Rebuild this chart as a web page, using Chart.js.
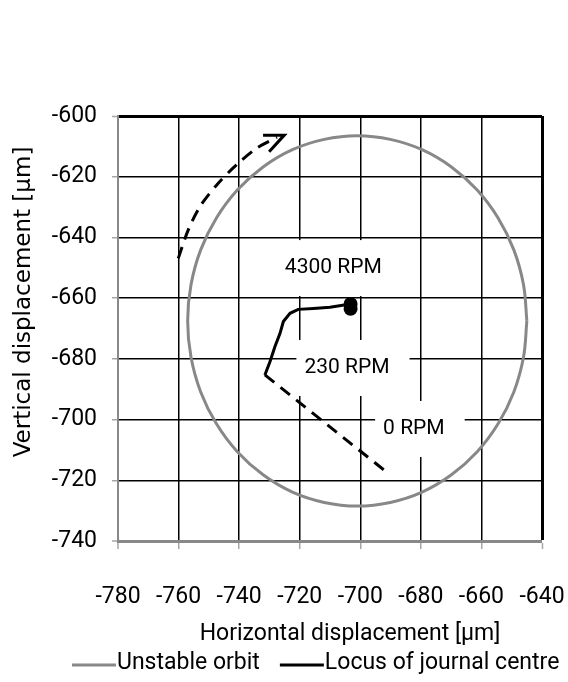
<!DOCTYPE html>
<html>
<head>
<meta charset="utf-8">
<script src="https://cdn.jsdelivr.net/npm/chart.js@4.4.0/dist/chart.umd.min.js"></script>
<style>
  body { margin: 0; background: #fff; }
</style>
</head>
<body>
<canvas id="chart" width="568" height="682"></canvas>
<script>
// values, all in µm
const orbitX = [-645, -646.1, -649.3, -654.5, -661.4, -669.9, -679.6, -690.1, -701, -711.9, -722.4, -732.1, -740.6, -747.5, -752.7, -755.9, -757,
    -755.9, -752.7, -747.5, -740.6, -732.1, -722.4, -711.9, -701, -690.1, -679.6, -669.9, -661.4, -654.5, -649.3, -646.1, -645];
const orbitY = [-667.5, -655.6, -644.1, -633.6, -624.4, -616.8, -611.1, -607.7, -606.5, -607.7, -611.1, -616.8, -624.4, -633.6, -644.1, -655.6, -667.5,
    -679.4, -690.9, -701.4, -710.6, -718.2, -723.9, -727.3, -728.5, -727.3, -723.9, -718.2, -710.6, -701.4, -690.9, -679.4, -667.5];

const locusX = [-731.5, -729.8, -728.2, -726.5, -725.4, -723.2, -720.5, -715.5, -710.0, -703.2, -703.2];
const locusY = [-685.3, -680.9, -676.0, -671.6, -667.7, -665.0, -663.7, -663.4, -663.0, -661.9, -663.5];

// dashed run-up from 0 RPM to 230 RPM
const startX = [-731.5, -690.8];
const startY = [-685.3, -717.7];

// rotation arrow
const arcX = [-760.1, -756.8, -752.9, -747.4, -740.9, -734.2, -727.5];
const arcY = [-646.9, -637.5, -629.8, -622.7, -616.1, -610.6, -607.0];
const headX = [-732.1, -725.1, -730.1];
const headY = [-606.3, -606.3, -611.8];

const speedLabels = ['4300 RPM', '230 RPM', '0 RPM'];
const speedX = [-708.9, -704.4, -682.3];
const speedY = [-650.1, -683.0, -703.1];

const FONT = "Roboto, 'DejaVu Sans Condensed', sans-serif";
const GRAY = '#888888';

function pts(xs, ys) {
    return xs.map(function (x, i) { return {x: x, y: ys[i]}; });
}

const annotate = {
    id: 'annotate',
    beforeDatasetsDraw(chart) {
        const ctx = chart.ctx, x = chart.scales.x, y = chart.scales.y;
        ctx.save();
        ctx.font = '21px ' + FONT;
        ctx.textAlign = 'center';
        ctx.textBaseline = 'middle';
        speedLabels.forEach(function (t, i) {
            const px = x.getPixelForValue(speedX[i]);
            const py = y.getPixelForValue(speedY[i]);
            const w = ctx.measureText(t).width;
            ctx.fillStyle = '#fff';
            ctx.fillRect(px - w / 2 - 8, py - 28, w + 28, 56);
            ctx.fillStyle = '#000';
            ctx.fillText(t, px, py);
        });
        ctx.restore();
    },
    afterDraw(chart) {
        const ctx = chart.ctx;
        ctx.save();
        ctx.fillStyle = '#000';
        ctx.textBaseline = 'middle';

        // axis titles
        ctx.font = '23px ' + FONT;
        ctx.textAlign = 'center';
        ctx.fillText('Horizontal displacement [µm]', 350, 634);
        ctx.save();
        ctx.translate(24, 302);
        ctx.rotate(-Math.PI / 2);
        ctx.font = "23px 'DejaVu Sans', sans-serif";
        ctx.fillText('Vertical displacement [µm]', 0, 0);
        ctx.restore();

        // legend
        ctx.font = '23px ' + FONT;
        ctx.textAlign = 'left';
        let lx = 72;
        chart.data.datasets.slice(0, 2).forEach(function (ds) {
            ctx.strokeStyle = ds.borderColor;
            ctx.lineWidth = 3;
            ctx.beginPath();
            ctx.moveTo(lx, 665);
            ctx.lineTo(lx + 44, 665);
            ctx.stroke();
            ctx.fillText(ds.label, lx + 45, 663);
            lx += 45 + ctx.measureText(ds.label).width + 20;
        });
        ctx.restore();
    }
};

new Chart(document.getElementById('chart'), {
    type: 'scatter',
    data: {
        datasets: [{
            label: 'Unstable orbit',
            data: pts(orbitX, orbitY),
            showLine: true,
            borderColor: GRAY,
            borderWidth: 3,
            tension: 0.35,
            pointRadius: 0
        }, {
            label: 'Locus of journal centre',
            data: pts(locusX, locusY),
            showLine: true,
            borderColor: '#000',
            backgroundColor: '#000',
            borderWidth: 3,
            pointRadius: function (c) { return c.dataIndex >= locusX.length - 2 ? 7 : 0; },
            pointBorderWidth: 0
        }, {
            label: 'start',
            data: pts(startX, startY),
            showLine: true,
            borderColor: '#000',
            borderWidth: 3,
            borderDash: [12, 8],
            pointRadius: 0
        }, {
            label: 'arc',
            data: pts(arcX, arcY),
            showLine: true,
            borderColor: '#000',
            borderWidth: 3,
            borderDash: [12, 8],
            tension: 0.3,
            pointRadius: 0
        }, {
            label: 'head',
            data: pts(headX, headY),
            showLine: true,
            borderColor: '#000',
            borderWidth: 3,
            pointRadius: 0
        }]
    },
    options: {
        responsive: false,
        animation: false,
        layout: {padding: {top: 116, right: 26, left: 0, bottom: 0}},
        plugins: {
            legend: {display: false},
            tooltip: {enabled: false}
        },
        scales: {
            x: {
                type: 'linear',
                min: -780,
                max: -640,
                afterFit: function (s) {
                    s.height = 141;
                    s.paddingLeft = 0;
                    s.paddingRight = 0;
                },
                ticks: {stepSize: 20, padding: 34, color: '#000', maxRotation: 0, minRotation: 0, autoSkip: false,
                    font: {family: FONT, size: 23}},
                grid: {
                    color: '#000',
                    lineWidth: function (c) { return c.tick.value === -640 ? 3 : (c.tick.value === -780 ? 0 : 1.5); },
                    tickColor: '#a6a6a6',
                    tickWidth: 1.5,
                    tickLength: 8
                },
                border: {color: GRAY, width: 3}
            },
            y: {
                type: 'linear',
                min: -740,
                max: -600,
                afterFit: function (s) { s.width = 118; },
                ticks: {stepSize: 20, padding: 15, color: '#000', font: {family: FONT, size: 23}},
                grid: {
                    color: '#000',
                    lineWidth: function (c) { return c.tick.value === -600 ? 3 : (c.tick.value === -740 ? 0 : 1.5); },
                    tickColor: '#a6a6a6',
                    tickWidth: 1.5,
                    tickLength: 6
                },
                border: {color: GRAY, width: 2}
            }
        }
    },
    plugins: [annotate]
});
</script>
</body>
</html>
